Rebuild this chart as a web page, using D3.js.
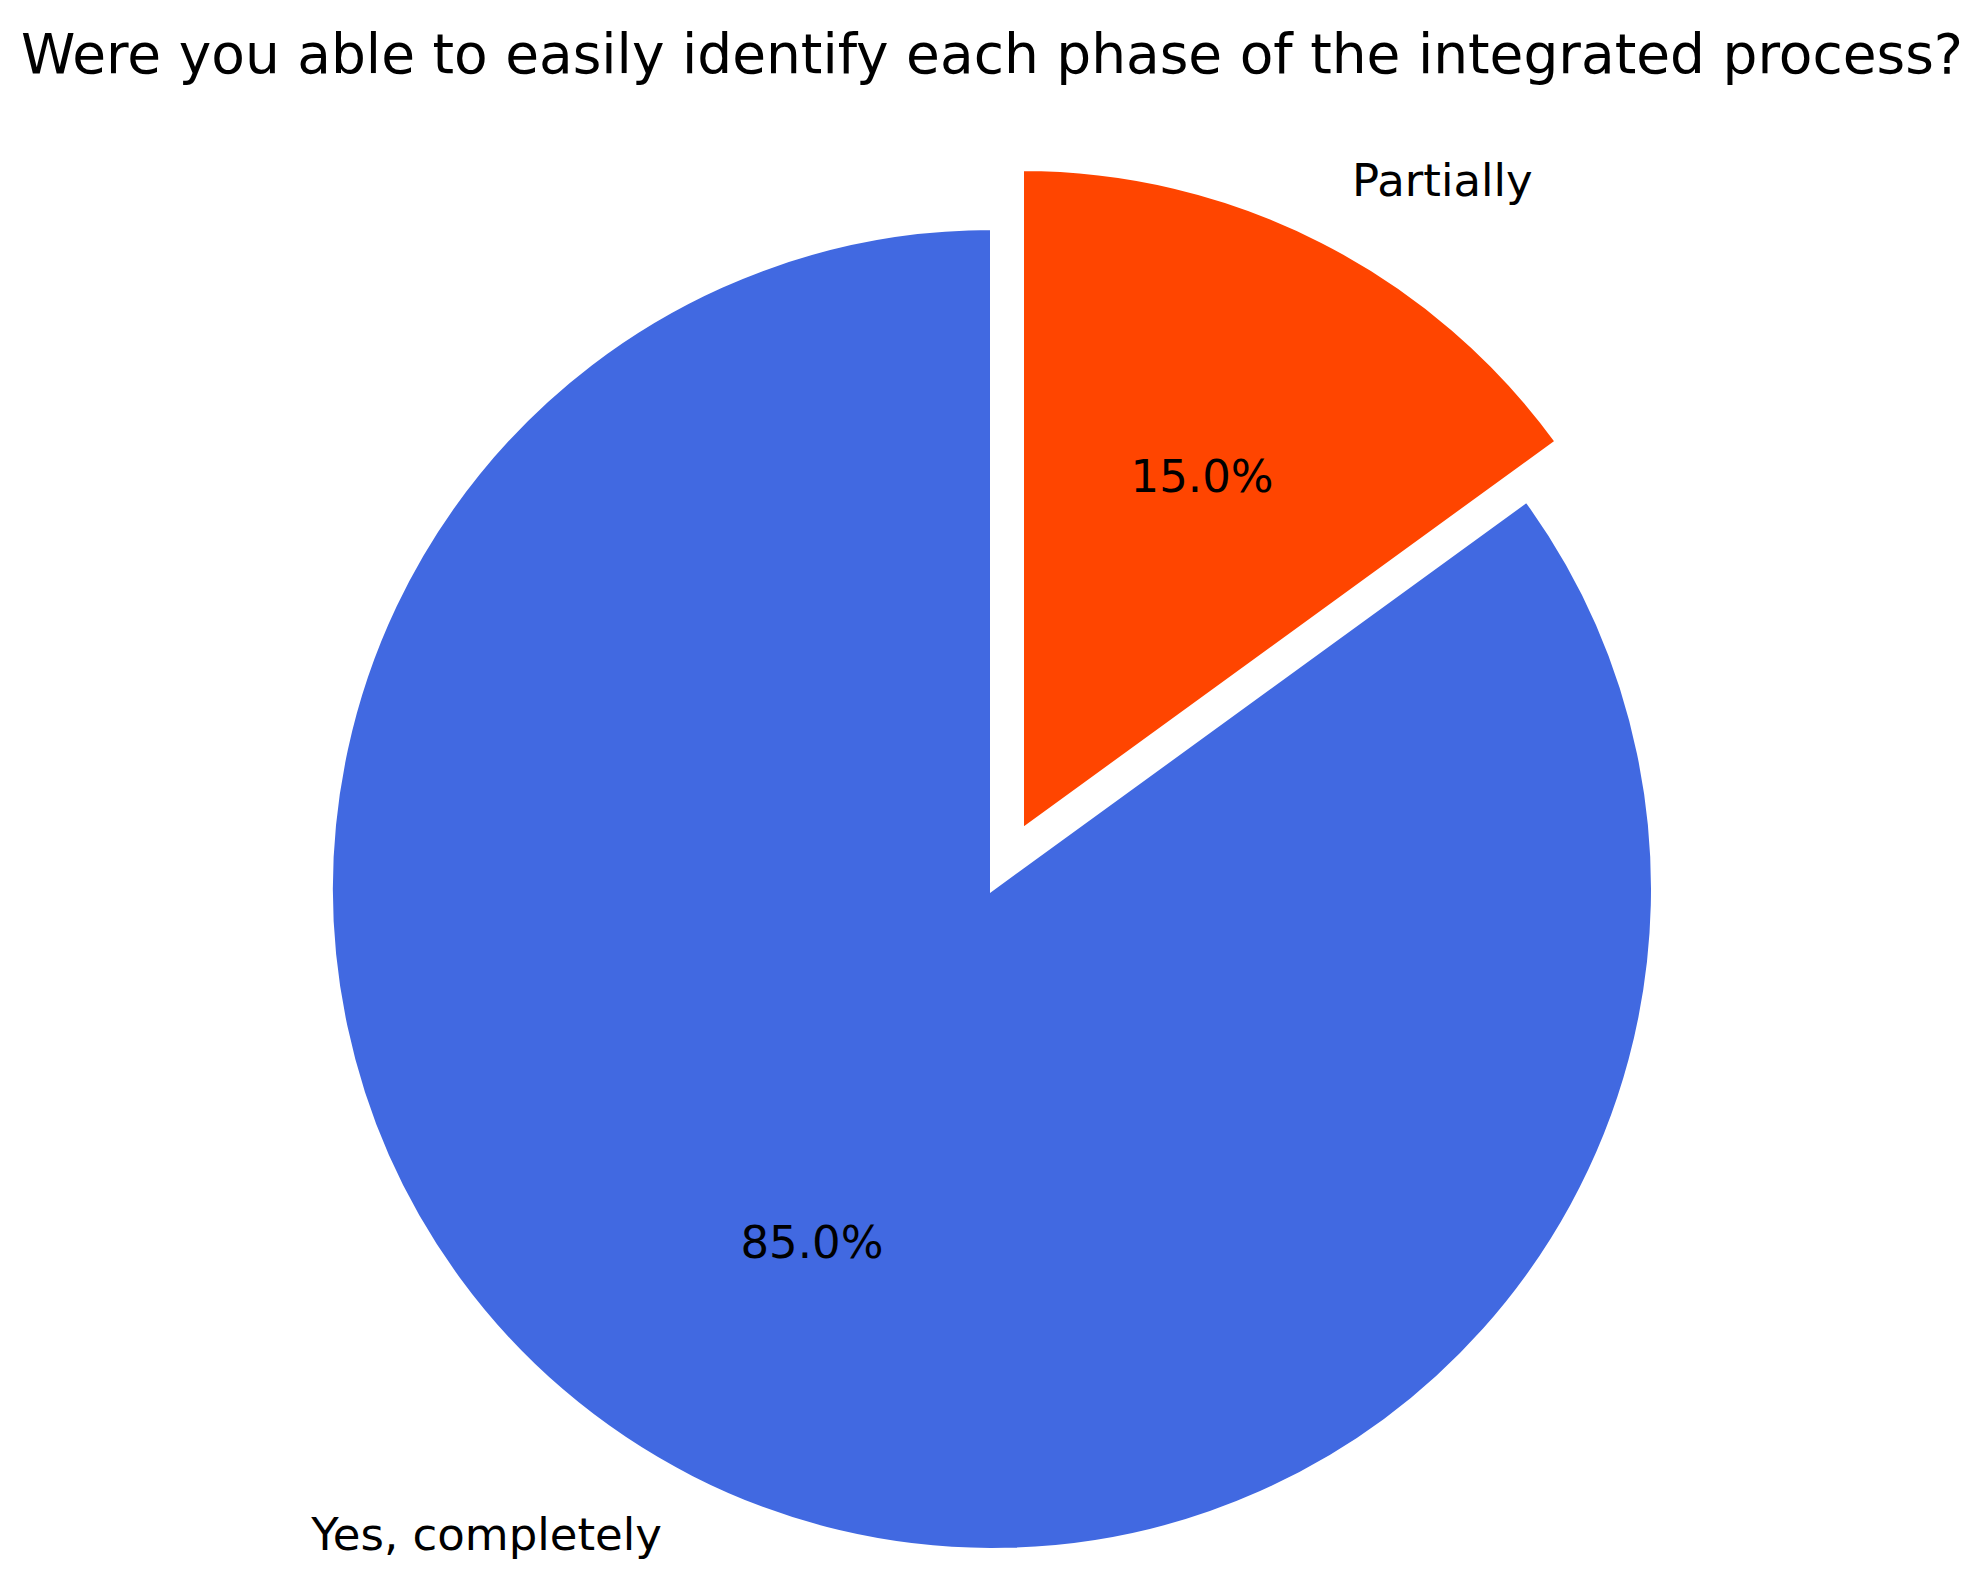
<!DOCTYPE html>
<html>
<head>
<meta charset="utf-8">
<script src="https://cdn.jsdelivr.net/npm/d3@7"></script>
<style>
  body { margin: 0; background: #fff; }
</style>
</head>
<body>
<script>
var title = "Were you able to easily identify each phase of the integrated process?";
var categories = ["Yes, completely", "Partially"];
var values = [85, 15];
var colors = ["#4169E1", "#FF4500"];
var explode = [0, 0.1];

var width = 1968, height = 1580;
var cx = 992, cy = 889, radius = 661;

var canvas = d3.select("body")
    .append("svg")
    .attr("width", width)
    .attr("height", height);

canvas.append("text")
    .attr("x", cx)
    .attr("y", 73)
    .attr("text-anchor", "middle")
    .style("font-family", "DejaVu Sans")
    .style("font-size", "55px")
    .attr("fill", "#000")
    .text(title);

var total = d3.sum(values);

// counter-clockwise from 12 o'clock, like matplotlib startangle=90
var pie = d3.pie()
    .sort(null)
    .startAngle(0)
    .endAngle(-2 * Math.PI);

var slices = pie(values).map(function (d, i) {
    var mid = (d.startAngle + d.endAngle) / 2;
    return {
        arc: d,
        i: i,
        mid: mid,
        dx: Math.sin(mid) * explode[i] * radius,
        dy: -Math.cos(mid) * explode[i] * radius
    };
});

var arc = d3.arc()
    .innerRadius(0)
    .outerRadius(radius);

var g = canvas.append("g")
    .attr("transform", "translate(" + cx + "," + cy + ")");

g.selectAll("path")
    .data(slices)
    .enter()
        .append("path")
        .attr("transform", function (d) { return "translate(" + d.dx + "," + d.dy + ")"; })
        .attr("d", function (d) { return arc(d.arc); })
        .attr("fill", function (d) { return colors[d.i]; })
        .attr("stroke", "#fff")
        .attr("stroke-width", 4)
        .attr("stroke-linejoin", "miter");

// category labels at 1.1 r
g.selectAll("text.label")
    .data(slices)
    .enter()
        .append("text")
        .attr("class", "label")
        .attr("x", function (d) { return d.dx + Math.sin(d.mid) * radius * 1.1; })
        .attr("y", function (d) { return d.dy - Math.cos(d.mid) * radius * 1.1; })
        .attr("dy", "0.3em")
        .attr("text-anchor", function (d) { return Math.sin(d.mid) > 0 ? "start" : "end"; })
        .style("font-family", "DejaVu Sans")
        .style("font-size", "45px")
        .attr("fill", "#000")
        .text(function (d) { return categories[d.i]; });

// percentages at 0.6 r
g.selectAll("text.pct")
    .data(slices)
    .enter()
        .append("text")
        .attr("class", "pct")
        .attr("x", function (d) { return d.dx + Math.sin(d.mid) * radius * 0.6; })
        .attr("y", function (d) { return d.dy - Math.cos(d.mid) * radius * 0.6; })
        .attr("dy", "0.35em")
        .attr("text-anchor", "middle")
        .style("font-family", "DejaVu Sans")
        .style("font-size", "45px")
        .attr("fill", "#000")
        .text(function (d) { return (values[d.i] / total * 100).toFixed(1) + "%"; });
</script>
</body>
</html>
